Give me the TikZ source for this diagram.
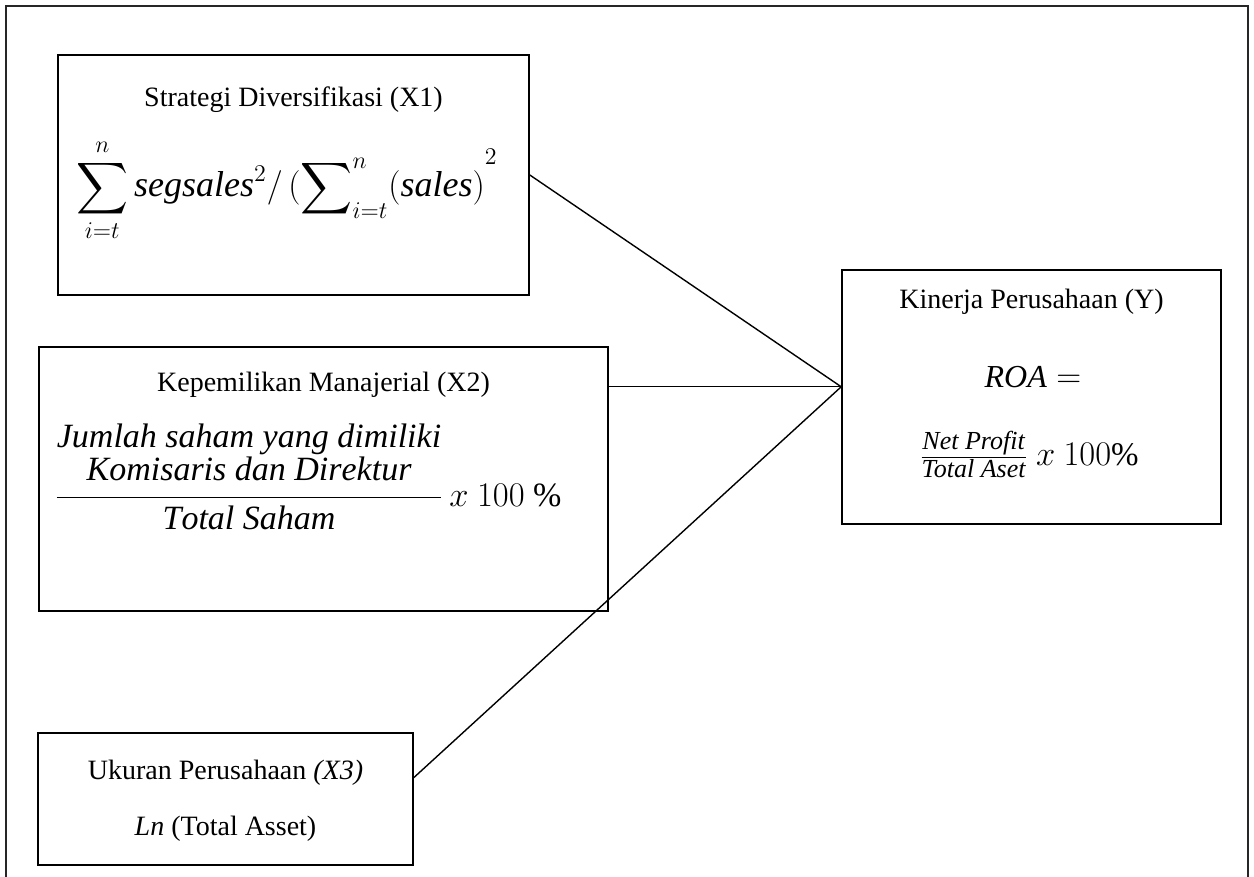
\documentclass[tikz,border=0pt]{standalone}
\usepackage{amsmath,amssymb}
\usepackage{fontspec}
\setmainfont{Liberation Serif}
\usetikzlibrary{calc}

\begin{document}
\begin{tikzpicture}[x=0.5pt, y=-0.5pt,
  varbox/.style={draw=black, line width=0.8pt, inner sep=0pt},
  title/.style={font=\fontsize{14}{17}\selectfont, inner sep=0pt},
  formula/.style={font=\fontsize{18}{22}\selectfont, inner sep=0pt, anchor=base},
  path/.style={draw=black, line width=0.7pt}
]

\useasboundingbox (0,0) rectangle (1254,877);

% Outer frame
\draw[line width=0.8pt, draw=black!85] (6,6) rectangle (1248,920);

% Boxes
\node[varbox, minimum width=235.5pt, minimum height=120pt] (x1) at (293.5,175) {};
\node[varbox, minimum width=284.5pt, minimum height=132pt] (x2) at (323.5,479) {};
\node[varbox, minimum width=187.5pt, minimum height=66pt] (x3) at (225.5,799) {};
\node[varbox, minimum width=189.5pt, minimum height=127pt] (y) at (1031.5,397) {};

% Texts
\node[title] (x1t) at (293.5,100) {Strategi Diversifikasi (X1)};
\node[formula] (x1f) at (287,197) {$\displaystyle\sum_{i=t}^{n} \mathit{segsales}^{2}/\,(\sum\nolimits_{i=t}^{n}(\mathit{sales})^{\raisebox{9pt}{$\scriptstyle 2$}}$};

\node[title] (x2t) at (323.5,385) {Kepemilikan Manajerial (X2)};
\node[formula, font=\fontsize{17}{21}\selectfont] (x2f) at (308,506) {$\dfrac{\begin{array}{@{}c@{}}\mathit{Jumlah\ saham\ yang\ dimiliki}\\[-5pt] \mathit{Komisaris\ dan\ Direktur}\end{array}}{\mathit{Total\ Saham}}\,x\ 100\ \%$};

\node[title] (x3t) at (225.5,773) {Ukuran Perusahaan \textit{(X3)}};
\node[title] (x3f) at (225.5,829) {\textit{Ln} (Total Asset)};

\node[title] (yt) at (1031.5,302) {Kinerja Perusahaan (Y)};
\node[formula, font=\fontsize{16}{19}\selectfont, anchor=center] (yf1) at (1033,377) {$\mathit{ROA}=$};
\node[formula, font=\fontsize{16.5}{20}\selectfont] (yf2) at (1029,466) {$\frac{\mbox{\fontsize{13}{15}\selectfont\itshape Net Profit}}{\mbox{\fontsize{13}{15}\selectfont\itshape Total Aset}}\ x\ 100\%$};

% Connectors
\coordinate (hub) at ($(y.north west)!0.46!(y.south west)$);
\draw[path] (x1.east) -- (hub);
\draw[path] (x2.east |- hub) -- (hub);
\draw[path] ($(x3.north east)!0.34!(x3.south east)$) -- (hub);

\end{tikzpicture}
\end{document}
